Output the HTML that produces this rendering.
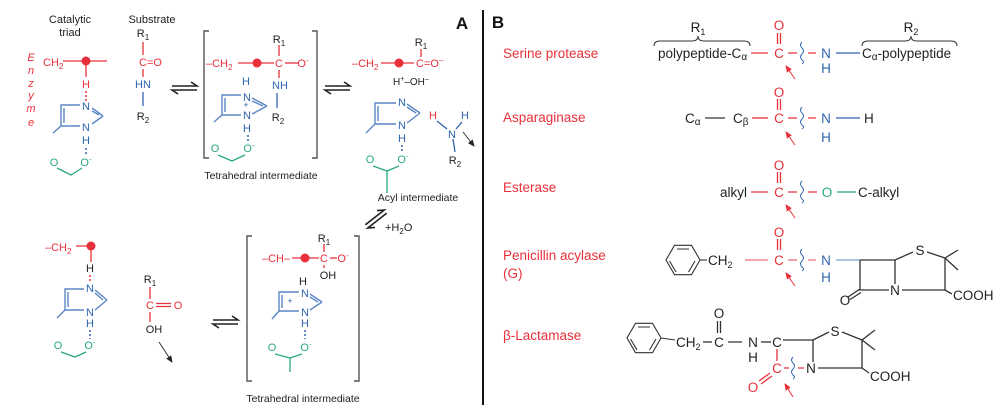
<!DOCTYPE html>
<html><head><meta charset="utf-8">
<style>
html,body{margin:0;padding:0;background:#fff;}
svg{display:block;}
text{font-family:"Liberation Sans",Arial,sans-serif;}
.k{fill:#222;} .r{fill:#e8303a;} .b{fill:#2f65b0;} .g{fill:#2aa882;}
.s11{font-size:11px;} .s10{font-size:10.5px;} .s13{font-size:13.5px;}
.ls{stroke:#e8303a;stroke-width:1.3;fill:none;}
.lb{stroke:#2f65b0;stroke-width:1.3;fill:none;}
.li{stroke:#5b87c5;stroke-width:1.4;fill:none;}
.lg{stroke:#2aa882;stroke-width:1.3;fill:none;}
.lk{stroke:#333;stroke-width:1.3;fill:none;}
.dr{stroke:#e8303a;stroke-width:1.5;stroke-dasharray:2,2;fill:none;}
.db{stroke:#2f65b0;stroke-width:1.5;stroke-dasharray:2,2;fill:none;}
.br{stroke:#555;stroke-width:1.4;fill:none;}
.eq{stroke:#222;stroke-width:1.6;fill:none;}
</style></head>
<body>
<svg width="1000" height="415" viewBox="0 0 1000 415" xmlns="http://www.w3.org/2000/svg">
<defs>
<marker id="ak" markerWidth="8" markerHeight="8" refX="6" refY="3" orient="auto" markerUnits="userSpaceOnUse"><path d="M0,0 L7,3 L0,6 Z" fill="#222"/></marker>
<marker id="ar" markerWidth="8" markerHeight="8" refX="6" refY="3" orient="auto" markerUnits="userSpaceOnUse"><path d="M0,0 L7,3 L0,6 Z" fill="#e8303a"/></marker>
</defs>

<!-- ============ PANEL A ============ -->
<text x="70" y="23" class="k s11" text-anchor="middle">Catalytic</text>
<text x="70" y="36" class="k s11" text-anchor="middle">triad</text>
<text x="152" y="23" class="k s11" text-anchor="middle">Substrate</text>

<!-- Enzyme vertical -->
<g class="r s11" font-style="italic" text-anchor="middle">
<text x="31" y="61">E</text><text x="31" y="74">n</text><text x="31" y="87">z</text>
<text x="31" y="99">y</text><text x="31" y="112">m</text><text x="31" y="126">e</text>
</g>

<!-- Enzyme serine -->
<text x="43" y="66" class="r s11">CH<tspan font-size="8" dy="3">2</tspan></text>
<path class="ls" d="M63,61 H107 M86,61 V77"/>
<circle cx="86" cy="61" r="4.5" fill="#e8303a"/>
<text x="86" y="88" class="r s11" text-anchor="middle">H</text>
<path class="dr" d="M86,91 V101"/>
<text x="86" y="110" class="b s11" text-anchor="middle">N</text>
<text x="86" y="131" class="b s11" text-anchor="middle">N</text>
<path class="li" d="M80,105 H61 V126 H80 M64,108 V123 M92,108 L103,116 M92,111 L99,115 M92,124 L103,116 M61,126 L53,133"/>
<text x="86" y="144" class="b s11" text-anchor="middle">H</text>
<path class="db" d="M86,148 V156"/>
<text x="86" y="166" class="g s11" text-anchor="middle">O<tspan font-size="8" dy="-4">-</tspan></text>
<text x="54" y="166" class="g s11" text-anchor="middle">O</text>
<path class="lg" d="M57,168 L71,175 L82,168"/>

<!-- Substrate -->
<text x="143" y="37" class="k s11" text-anchor="middle">R<tspan font-size="8" dy="3">1</tspan></text>
<path class="ls" d="M143,42 V55"/>
<text x="139" y="66" class="r s11">C=O</text>
<path class="ls" d="M143,69 V77"/>
<text x="143" y="88" class="b s11" text-anchor="middle">HN</text>
<path class="lb" d="M143,92 V106"/>
<text x="143" y="120" class="k s11" text-anchor="middle">R<tspan font-size="8" dy="3">2</tspan></text>

<!-- eq arrows 1 -->
<path class="eq" d="M172,86 H197 L191,82 M197,90 H172 L178,94"/>

<!-- Bracket 1 -->
<path class="br" d="M209,31 H204 V158 H209 M312,31 H317 V158 H312"/>
<text x="206" y="67" class="r s11">–CH<tspan font-size="8" dy="3">2</tspan></text>
<path class="ls" d="M238,63 H274"/>
<circle cx="257" cy="63" r="4.5" fill="#e8303a"/>
<text x="279" y="67" class="r s11" text-anchor="middle">C</text>
<path class="ls" d="M285,63 H298"/>
<text x="303" y="67" class="r s11" text-anchor="middle">O<tspan font-size="8" dy="-4">-</tspan></text>
<text x="279" y="43" class="k s11" text-anchor="middle">R<tspan font-size="8" dy="3">1</tspan></text>
<path class="ls" d="M279,45 V56 M279,70 V78"/>
<text x="280" y="89" class="b s11" text-anchor="middle">NH</text>
<path class="lb" d="M277,93 V108"/>
<text x="278" y="121" class="k s11" text-anchor="middle">R<tspan font-size="8" dy="3">2</tspan></text>
<text x="246" y="85" class="b s11" text-anchor="middle">H</text>
<text x="247" y="101" class="b s11" text-anchor="middle">N</text>
<text x="246" y="108" class="b" font-size="9" text-anchor="middle">+</text>
<text x="247" y="119" class="b s11" text-anchor="middle">N</text>
<path class="li" d="M241,95 H222 V115 H241 M225,98 V112 M252,98 L267,106 M252,101 L263,106 M252,114 L267,106 M222,115 L214,122"/>
<text x="247" y="132" class="b s11" text-anchor="middle">H</text>
<path class="db" d="M248,135 V143"/>
<text x="249" y="152" class="g s11" text-anchor="middle">O<tspan font-size="8" dy="-4">-</tspan></text>
<text x="215" y="152" class="g s11" text-anchor="middle">O</text>
<path class="lg" d="M218,155 L232,161 L245,155"/>
<text x="261" y="179" class="k s10" text-anchor="middle">Tetrahedral intermediate</text>

<!-- eq arrows 2 -->
<path class="eq" d="M325,86 H350 L344,82 M350,90 H325 L331,94"/>

<!-- Acyl intermediate -->
<text x="352" y="67" class="r s11">–CH<tspan font-size="8" dy="3">2</tspan></text>
<path class="ls" d="M381,63 H414"/>
<circle cx="399" cy="63" r="4.5" fill="#e8303a"/>
<text x="416" y="67" class="r s11">C=O<tspan font-size="8" dy="-4">–</tspan></text>
<text x="421" y="46" class="k s11" text-anchor="middle">R<tspan font-size="8" dy="3">1</tspan></text>
<path class="ls" d="M421,49 V57"/>
<text x="393" y="85" class="k" font-size="10">H<tspan font-size="7" dy="-4">+</tspan><tspan dy="4">–OH</tspan><tspan font-size="7" dy="-4">–</tspan></text>
<text x="402" y="106" class="b s11" text-anchor="middle">N</text>
<text x="402" y="129" class="b s11" text-anchor="middle">N</text>
<path class="li" d="M396,103 H375 V124 H396 M378,106 V121 M407,104 L420,113 M407,107 L416,113 M407,123 L420,113 M375,124 L366,133"/>
<text x="402" y="142" class="b s11" text-anchor="middle">H</text>
<path class="db" d="M402,145 V153"/>
<text x="403" y="163" class="g s11" text-anchor="middle">O<tspan font-size="8" dy="-4">-</tspan></text>
<text x="370" y="163" class="g s11" text-anchor="middle">O</text>
<path class="lg" d="M373,166 L387,171 L399,166 M387,171 V193"/>
<!-- amine -->
<text x="433" y="119" class="r s11" text-anchor="middle">H</text>
<text x="465" y="119" class="b s11" text-anchor="middle">H</text>
<text x="452" y="138" class="b s11" text-anchor="middle">N</text>
<path class="lb" d="M437,121 L447,129 M462,122 L456,129 M453,139 L455,152"/>
<text x="455" y="164" class="k s11" text-anchor="middle">R<tspan font-size="8" dy="3">2</tspan></text>
<path class="lk" d="M463,132 L474,146" marker-end="url(#ak)" style="stroke-width:1"/>
<text x="418" y="201" class="k s10" text-anchor="middle">Acyl intermediate</text>

<text x="462" y="29" font-family="Liberation Serif,serif" font-weight="bold" font-size="17" text-anchor="middle" fill="#111">A</text>

<!-- diagonal eq arrows -->
<g transform="translate(376,219) rotate(-38)">
<path class="eq" d="M-12,-2 H12 L6,-6 M12,2 H-12 L-6,6"/>
</g>
<text x="385" y="231" class="k s11">+H<tspan font-size="8" dy="3">2</tspan><tspan dy="-3">O</tspan></text>

<!-- Bottom-left -->
<text x="45" y="251" class="r s11">–CH<tspan font-size="8" dy="3">2</tspan></text>
<path class="ls" d="M76,246 H91 V262"/>
<circle cx="91" cy="246" r="4.5" fill="#e8303a"/>
<text x="90" y="272" class="k s11" text-anchor="middle">H</text>
<path class="dr" d="M90,275 V283"/>
<text x="90" y="292" class="b s11" text-anchor="middle">N</text>
<text x="90" y="316" class="b s11" text-anchor="middle">N</text>
<path class="li" d="M84,289 H65 V310 H84 M68,292 V307 M95,290 L107,300 M95,293 L103,300 M95,310 L107,300 M65,310 L57,318"/>
<text x="90" y="327" class="b s11" text-anchor="middle">H</text>
<path class="db" d="M90,330 V339"/>
<text x="90" y="349" class="g s11" text-anchor="middle">O<tspan font-size="8" dy="-4">-</tspan></text>
<text x="58" y="349" class="g s11" text-anchor="middle">O</text>
<path class="lg" d="M61,352 L75,357 L86,352"/>

<text x="150" y="283" class="k s11" text-anchor="middle">R<tspan font-size="8" dy="3">1</tspan></text>
<path class="ls" d="M150,287 V299"/>
<text x="150" y="309" class="r s11" text-anchor="middle">C</text>
<path class="ls" d="M156,303.5 H171 M156,306.5 H171"/>
<text x="178" y="309" class="r s11" text-anchor="middle">O</text>
<path class="ls" d="M150,312 V322"/>
<text x="154" y="333" class="k s11" text-anchor="middle">OH</text>
<path class="lk" d="M159,342 L172,362" marker-end="url(#ak)" style="stroke-width:1"/>

<!-- eq arrows 3 -->
<path class="eq" d="M213,320 H238 L232,316 M238,324 H213 L219,328"/>

<!-- Bracket 2 -->
<path class="br" d="M252,236 H247 V381 H252 M354,236 H359 V381 H354"/>
<text x="262" y="262" class="r s11">–CH–</text>
<path class="ls" d="M292,258 H319"/>
<circle cx="305" cy="258" r="4.5" fill="#e8303a"/>
<text x="324" y="262" class="r s11" text-anchor="middle">C</text>
<path class="ls" d="M330,258 H337"/>
<text x="343" y="262" class="r s11" text-anchor="middle">O<tspan font-size="8" dy="-4">-</tspan></text>
<text x="324" y="242" class="k s11" text-anchor="middle">R<tspan font-size="8" dy="3">1</tspan></text>
<path class="ls" d="M324,244 V252 M324,265 V268"/>
<text x="328" y="279" class="k s11" text-anchor="middle">OH</text>
<text x="303" y="285" class="k s11" text-anchor="middle">H</text>
<text x="305" y="297" class="b s11" text-anchor="middle">N</text>
<text x="290" y="304" class="b" font-size="9" text-anchor="middle">+</text>
<text x="305" y="316" class="b s11" text-anchor="middle">N</text>
<path class="li" d="M299,292 H279 V311 H299 M282,295 V308 M310,294 L322,302 M310,297 L318,302 M310,310 L322,302 M279,311 L272,319"/>
<text x="305" y="327" class="b s11" text-anchor="middle">H</text>
<path class="db" d="M305,330 V339"/>
<text x="306" y="351" class="g s11" text-anchor="middle">O<tspan font-size="8" dy="-4">-</tspan></text>
<text x="272" y="351" class="g s11" text-anchor="middle">O</text>
<path class="lg" d="M275,354 L290,358 L302,354 M290,358 V372"/>
<text x="303" y="402" class="k s10" text-anchor="middle">Tetrahedral intermediate</text>

<!-- Divider -->
<path d="M483,10 V405" stroke="#111" stroke-width="2"/>

<!-- ============ PANEL B ============ -->
<text x="498" y="28" font-family="Liberation Serif,serif" font-weight="bold" font-size="17" text-anchor="middle" fill="#111">B</text>

<text x="503" y="58" class="r s13">Serine protease</text>
<text x="503" y="122" class="r s13">Asparaginase</text>
<text x="503" y="192" class="r s13">Esterase</text>
<text x="503" y="260" class="r s13">Penicillin  acylase</text>
<text x="503" y="278" class="r s13">(G)</text>
<text x="503" y="340" class="r s13">β-Lactamase</text>

<!-- Serine protease -->
<text x="698" y="32" class="k s13" text-anchor="middle">R<tspan font-size="9" dy="3">1</tspan></text>
<path class="lk" style="stroke-width:1" d="M654,46 Q654,41 660,41 H692 Q698,41 698,36 Q698,41 704,41 H744 Q750,41 750,46"/>
<text x="658" y="58" class="k s13">polypeptide-C<tspan font-size="10" dy="2">α</tspan></text>
<path class="ls" d="M751,53 H768"/>
<text x="779" y="58" class="r s13" text-anchor="middle">C</text>
<text x="779" y="30" class="r s13" text-anchor="middle">O</text>
<path class="ls" d="M777.5,33 V44 M780.5,33 V44"/>
<path class="ls" d="M788,53 H797 M808,53 H816"/>
<path class="lb" style="stroke-width:1" d="M802,42 q-3,3 0,6 q3,3 0,6 q-3,3 0,6 q3,2 0,4"/>
<text x="826" y="58" class="b s13" text-anchor="middle">N</text>
<text x="826" y="73" class="b s13" text-anchor="middle">H</text>
<path class="lb" d="M836,53 H860"/>
<text x="862" y="58" class="k s13">C<tspan font-size="10" dy="2">α</tspan><tspan dy="-2">-polypeptide</tspan></text>
<text x="911" y="32" class="k s13" text-anchor="middle">R<tspan font-size="9" dy="3">2</tspan></text>
<path class="lk" style="stroke-width:1" d="M862,46 Q862,41 868,41 H905 Q911,41 911,36 Q911,41 917,41 H951 Q957,41 957,46"/>
<path class="ls" style="stroke-width:1" d="M795,79 L786,66" marker-end="url(#ar)"/>

<!-- Asparaginase -->
<text x="685" y="123" class="k s13">C<tspan font-size="10" dy="2">α</tspan></text>
<path class="lk" d="M705,118 H725"/>
<text x="733" y="123" class="k s13">C<tspan font-size="10" dy="2">β</tspan></text>
<path class="ls" d="M752,118 H768"/>
<text x="779" y="123" class="r s13" text-anchor="middle">C</text>
<text x="779" y="97" class="r s13" text-anchor="middle">O</text>
<path class="ls" d="M777.5,99 V110 M780.5,99 V110"/>
<path class="ls" d="M788,118 H797 M808,118 H816"/>
<path class="lb" style="stroke-width:1" d="M802,107 q-3,3 0,6 q3,3 0,6 q-3,3 0,6 q3,2 0,4"/>
<text x="826" y="123" class="b s13" text-anchor="middle">N</text>
<text x="826" y="142" class="b s13" text-anchor="middle">H</text>
<path class="lb" d="M836,118 H860"/>
<text x="864" y="123" class="k s13">H</text>
<path class="ls" style="stroke-width:1" d="M795,145 L786,132" marker-end="url(#ar)"/>

<!-- Esterase -->
<text x="720" y="197" class="k s13">alkyl</text>
<path class="ls" d="M751,192 H768"/>
<text x="779" y="197" class="r s13" text-anchor="middle">C</text>
<text x="779" y="170" class="r s13" text-anchor="middle">O</text>
<path class="ls" d="M777.5,172 V183 M780.5,172 V183"/>
<path class="ls" d="M788,192 H797 M808,192 H817"/>
<path class="lb" style="stroke-width:1" d="M802,181 q-3,3 0,6 q3,3 0,6 q-3,3 0,6 q3,2 0,4"/>
<text x="827" y="197" class="g s13" text-anchor="middle">O</text>
<path class="lg" d="M837,192 H856"/>
<text x="858" y="197" class="k s13">C-alkyl</text>
<path class="ls" style="stroke-width:1" d="M795,218 L786,205" marker-end="url(#ar)"/>

<!-- Penicillin acylase -->
<path class="lk" style="stroke-width:1.1" d="M700,260 L691.5,274.7 L674.5,274.7 L666,260 L674.5,245.3 L691.5,245.3 Z M677,249 H689 M695,261 L688.5,272 M676,272 L669.5,261"/>
<path class="lk" style="stroke-width:1.1" d="M700,260 H707"/>
<text x="708" y="265" class="k s13">CH<tspan font-size="9" dy="3">2</tspan></text>
<path class="ls" style="stroke:#e8707a" d="M745,260 H768"/>
<text x="779" y="265" class="r s13" text-anchor="middle">C</text>
<text x="779" y="237" class="r s13" text-anchor="middle">O</text>
<path class="ls" d="M777.5,239 V250 M780.5,239 V250"/>
<path class="ls" style="stroke:#e8707a" d="M788,260 H797 M808,260 H816"/>
<path class="lb" style="stroke-width:1" d="M802,249 q-3,3 0,6 q3,3 0,6 q-3,3 0,6 q3,2 0,4"/>
<text x="826" y="265" class="b s13" text-anchor="middle">N</text>
<text x="826" y="282" class="b s13" text-anchor="middle">H</text>
<path class="lb" style="stroke:#7fa0cc" d="M836,260 H860"/>
<path class="lk" d="M860,260 H895 V284 M860,260 V290 H889 M860,289 L848,297 M861,292.5 L850,299.5 M895,260 L913,252 M927,252 L945,258 L958,250 M945,258 L958,270 M945,258 V290 H902 M945,290 L952,294"/>
<text x="845" y="305" class="k s13" text-anchor="middle">O</text>
<text x="895" y="295" class="k s13" text-anchor="middle">N</text>
<text x="920" y="255" class="k s13" text-anchor="middle">S</text>
<text x="953" y="300" class="k s13">COOH</text>
<path class="ls" style="stroke-width:1" d="M795,286 L786,273" marker-end="url(#ar)"/>

<!-- beta-Lactamase -->
<path class="lk" style="stroke-width:1.1" d="M661,338 L652.5,352.7 L635.5,352.7 L627,338 L635.5,323.3 L652.5,323.3 Z M638,327 H650 M656,339 L649.5,350 M637,350 L630.5,339"/>
<path class="lk" style="stroke-width:1.1" d="M661,338 L675,340"/>
<text x="676" y="347" class="k s13">CH<tspan font-size="9" dy="3">2</tspan></text>
<path class="lk" d="M703,342 H712"/>
<text x="719" y="347" class="k s13" text-anchor="middle">C</text>
<text x="719" y="318" class="k s13" text-anchor="middle">O</text>
<path class="lk" d="M717.5,321 V333 M720.5,321 V333 M728,342 H742"/>
<text x="753" y="347" class="k s13" text-anchor="middle">N</text>
<text x="753" y="362" class="k s13" text-anchor="middle">H</text>
<path class="lk" d="M761,342 H771"/>
<text x="777" y="347" class="k s13" text-anchor="middle">C</text>
<path class="lk" d="M783,340 H813 V362 M813,340 L829,332 M842,332 L862,340 L875,330 M862,340 L875,350 M862,340 V368 H818 M862,368 L869,373"/>
<path class="ls" d="M777,349 V361"/>
<text x="777" y="373" class="r s13" text-anchor="middle">C</text>
<path class="ls" d="M770,373 L759,381 M772,376 L761,384"/>
<text x="753" y="392" class="r s13" text-anchor="middle">O</text>
<path class="ls" d="M784,368 H789 M798,368 H804"/>
<path class="lb" style="stroke-width:1" d="M793,357 q-3,3 0,6 q3,3 0,6 q-3,3 0,6 q3,2 0,4"/>
<text x="811" y="373" class="k s13" text-anchor="middle">N</text>
<text x="835" y="336" class="k s13" text-anchor="middle">S</text>
<text x="870" y="381" class="k s13">COOH</text>
<path class="ls" style="stroke-width:1" d="M793,397 L785,384" marker-end="url(#ar)"/>
</svg>
</body></html>
